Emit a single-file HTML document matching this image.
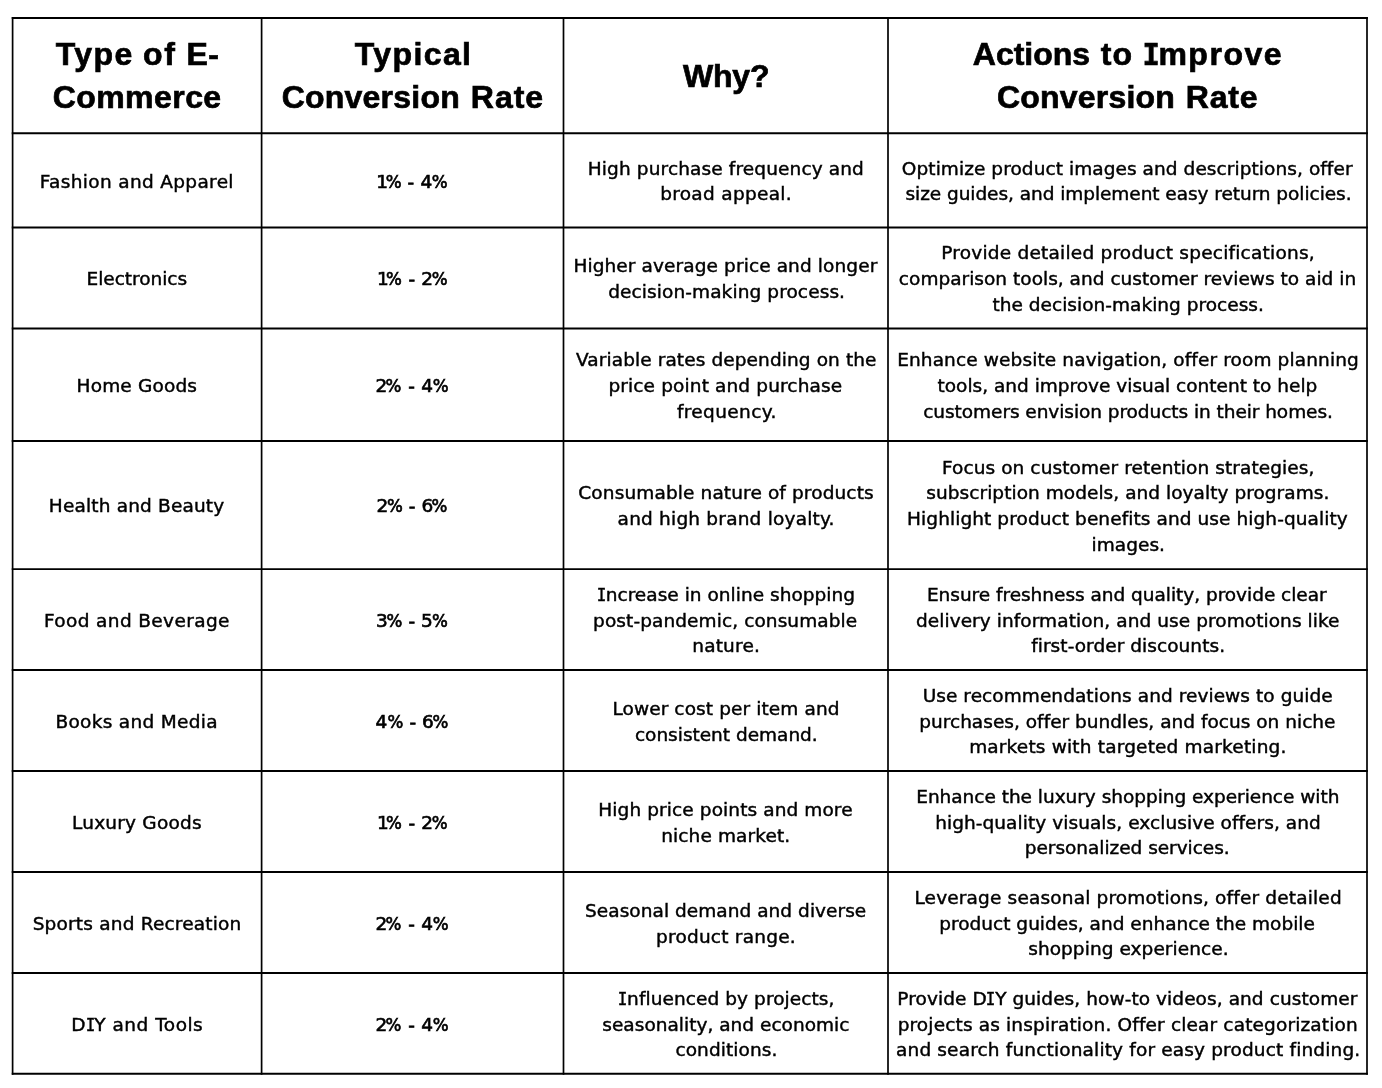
<!DOCTYPE html>
<html lang="en">
<head>
<meta charset="utf-8">
<title>E-Commerce Conversion Rates by Type</title>
<style>
html,body{margin:0;padding:0;background:#fff;}
body{width:1382px;height:1088px;position:relative;overflow:hidden;color:#000;}
#grid{position:absolute;left:0;top:0;width:1382px;height:1088px;}
.t{position:absolute;white-space:nowrap;text-align:center;margin:0;padding:0;}
.h{font:700 32px/43.3px 'Liberation Sans','DejaVu Sans',sans-serif;height:43.3px;-webkit-text-stroke:0.7px #000;}
.b{font:400 18.5px/25.7px 'DejaVu Sans','Liberation Sans',sans-serif;height:25.7px;-webkit-text-stroke:0.45px #000;}
.u{display:inline-block;}
.n{-webkit-text-stroke:0.65px #000;}
#tbl{position:absolute;left:0;top:0;width:1382px;height:1088px;}
.c{position:absolute;margin:0;padding:0;}
.h .i{font-family:'DejaVu Sans Mono','Liberation Mono',monospace;font-size:30.2px;letter-spacing:0;display:inline-block;margin:0 -1.5px;transform:scaleX(.95);}
.b .i{font-family:'DejaVu Sans Mono','Liberation Mono',monospace;letter-spacing:0;display:inline-block;margin:0 -1.4px;transform:scaleX(.86);}
.b .p{font-family:'DejaVu Sans Condensed','DejaVu Sans',sans-serif;}
</style>
</head>
<body>
<svg id="grid" width="1382" height="1088" viewBox="0 0 1382 1088" shape-rendering="geometricPrecision">
<rect x="0" y="0" width="1382" height="1088" fill="#ffffff"/>
<g stroke="#000" stroke-width="1.9" fill="none">
<line x1="11.75" y1="18.0" x2="1367.85" y2="18.0"/>
<line x1="11.75" y1="133.2" x2="1367.85" y2="133.2"/>
<line x1="11.75" y1="227.5" x2="1367.85" y2="227.5"/>
<line x1="11.75" y1="328.5" x2="1367.85" y2="328.5"/>
<line x1="11.75" y1="441.07" x2="1367.85" y2="441.07"/>
<line x1="11.75" y1="569.1" x2="1367.85" y2="569.1"/>
<line x1="11.75" y1="670.0" x2="1367.85" y2="670.0"/>
<line x1="11.75" y1="771.0" x2="1367.85" y2="771.0"/>
<line x1="11.75" y1="872.0" x2="1367.85" y2="872.0"/>
<line x1="11.75" y1="973.0" x2="1367.85" y2="973.0"/>
<line x1="11.75" y1="1073.8" x2="1367.85" y2="1073.8"/>
</g>
<g stroke="#000" stroke-width="1.7" fill="none">
<line x1="12.6" y1="17.05" x2="12.6" y2="1074.75"/>
<line x1="261.6" y1="17.05" x2="261.6" y2="1074.75"/>
<line x1="563.5" y1="17.05" x2="563.5" y2="1074.75"/>
<line x1="888.0" y1="17.05" x2="888.0" y2="1074.75"/>
<line x1="1367.0" y1="17.05" x2="1367.0" y2="1074.75"/>
</g>
</svg>
<div id="tbl" role="table" aria-label="E-commerce conversion rates by type">
<div class="r" role="row">
<div class="c" role="columnheader" style="left:13px;top:18px;width:249px;height:115px;">
<div class="t h" id="h0_0" style="left:-0.19px;top:15px;width:249.00px;"><span class="u" style="letter-spacing:1.375px;margin-right:-1.375px;">Type</span> <span class="u" style="letter-spacing:1.764px;margin-right:-1.764px;margin-left:1.816px;">of</span> <span class="u" style="letter-spacing:0.490px;margin-right:-0.490px;margin-left:2.633px;">E-</span></div>
<div class="t h" id="h0_1" style="left:-0.59px;top:58px;width:249.00px;"><span class="u" style="letter-spacing:0.443px;margin-right:-0.443px;">Commerce</span></div>
</div>
<div class="c" role="columnheader" style="left:262px;top:18px;width:302px;height:115px;">
<div class="t h" id="h1_0" style="left:-0.11px;top:15px;width:301.90px;"><span class="u" style="letter-spacing:1.412px;margin-right:-1.412px;">Typical</span></div>
<div class="t h" id="h1_1" style="left:-0.52px;top:58px;width:301.90px;"><span class="u" style="letter-spacing:0.212px;margin-right:-0.212px;">Conversion</span> <span class="u" style="letter-spacing:0.950px;margin-right:-0.950px;margin-left:2.256px;">Rate</span></div>
</div>
<div class="c" role="columnheader" style="left:564px;top:18px;width:324px;height:115px;">
<div class="t h" id="h2_0" style="left:-0.00px;top:37px;width:324.50px;"><span class="u" style="letter-spacing:-0.150px;margin-right:0.150px;">Why?</span></div>
</div>
<div class="c" role="columnheader" style="left:888px;top:18px;width:479px;height:115px;">
<div class="t h" id="h3_0" style="left:-0.26px;top:15px;width:479.00px;"><span class="u" style="letter-spacing:-0.033px;margin-right:0.033px;">Actions</span> <span class="u" style="letter-spacing:1.240px;margin-right:-1.240px;margin-left:1.773px;">to</span> <span class="u" style="letter-spacing:1.530px;margin-right:-1.530px;margin-left:2.230px;"><span class="i">I</span>mprove</span></div>
<div class="t h" id="h3_1" style="left:-0.19px;top:58px;width:479.00px;"><span class="u" style="letter-spacing:0.209px;margin-right:-0.209px;">Conversion</span> <span class="u" style="letter-spacing:0.824px;margin-right:-0.824px;margin-left:1.982px;">Rate</span></div>
</div>
</div>
<div class="r" role="row">
<div class="c" role="cell" style="left:13px;top:133px;width:249px;height:95px;">
<div class="t b" id="r0c0_0" style="left:-0.84px;top:36px;width:249.00px;"><span class="u" style="letter-spacing:0.339px;margin-right:-0.339px;">Fashion and Apparel</span></div>
</div>
<div class="c" role="cell" style="left:262px;top:133px;width:302px;height:95px;">
<div class="t b n" id="r0c1_0" style="left:-1.05px;top:36px;width:301.90px;"><span class="u" style="letter-spacing:-2.165px;margin-right:2.165px;">1<span class="p">%</span></span> <span class="u" style="margin-left:0.059px;">-</span> <span class="u" style="letter-spacing:-0.467px;margin-right:0.467px;margin-left:0.440px;">4<span class="p">%</span></span></div>
</div>
<div class="c" role="cell" style="left:564px;top:133px;width:324px;height:95px;">
<div class="t b" id="r0c2_0" style="left:-0.44px;top:23px;width:324.50px;"><span class="u" style="letter-spacing:0.130px;margin-right:-0.130px;">High purchase frequency and</span></div>
<div class="t b" id="r0c2_1" style="left:-0.32px;top:48px;width:324.50px;"><span class="u" style="letter-spacing:0.314px;margin-right:-0.314px;">broad appeal.</span></div>
</div>
<div class="c" role="cell" style="left:888px;top:133px;width:479px;height:95px;">
<div class="t b" id="r0c3_0" style="left:-0.31px;top:23px;width:479.00px;"><span class="u" style="letter-spacing:0.073px;margin-right:-0.073px;">Optimize product images and descriptions, offer</span></div>
<div class="t b" id="r0c3_1" style="left:1.01px;top:48px;width:479.00px;"><span class="u" style="letter-spacing:-0.051px;margin-right:0.051px;">size guides, and implement easy return policies.</span></div>
</div>
</div>
<div class="r" role="row">
<div class="c" role="cell" style="left:13px;top:228px;width:249px;height:100px;">
<div class="t b" id="r1c0_0" style="left:-0.69px;top:38px;width:249.00px;"><span class="u" style="letter-spacing:-0.011px;margin-right:0.011px;">Electronics</span></div>
</div>
<div class="c" role="cell" style="left:262px;top:228px;width:302px;height:100px;">
<div class="t b n" id="r1c1_0" style="left:-0.63px;top:38px;width:301.90px;"><span class="u" style="letter-spacing:-2.914px;margin-right:2.914px;">1<span class="p">%</span></span> <span class="u" style="margin-left:0.790px;">-</span> <span class="u" style="letter-spacing:-1.247px;margin-right:1.247px;margin-left:0.302px;">2<span class="p">%</span></span></div>
</div>
<div class="c" role="cell" style="left:564px;top:228px;width:324px;height:100px;">
<div class="t b" id="r1c2_0" style="left:-0.91px;top:25px;width:324.50px;"><span class="u" style="letter-spacing:0.113px;margin-right:-0.113px;">Higher average price and longer</span></div>
<div class="t b" id="r1c2_1" style="left:0.33px;top:51px;width:324.50px;"><span class="u" style="letter-spacing:0.104px;margin-right:-0.104px;">decision-making process.</span></div>
</div>
<div class="c" role="cell" style="left:888px;top:228px;width:479px;height:100px;">
<div class="t b" id="r1c3_0" style="left:0.44px;top:12px;width:479.00px;"><span class="u" style="letter-spacing:0.224px;margin-right:-0.224px;">Provide detailed product specifications,</span></div>
<div class="t b" id="r1c3_1" style="left:-0.01px;top:38px;width:479.00px;"><span class="u" style="letter-spacing:0.024px;margin-right:-0.024px;">comparison tools, and customer reviews to aid in</span></div>
<div class="t b" id="r1c3_2" style="left:0.71px;top:64px;width:479.00px;"><span class="u" style="letter-spacing:0.028px;margin-right:-0.028px;">the decision-making process.</span></div>
</div>
</div>
<div class="r" role="row">
<div class="c" role="cell" style="left:13px;top:328px;width:249px;height:113px;">
<div class="t b" id="r2c0_0" style="left:-0.73px;top:45px;width:249.00px;"><span class="u" style="letter-spacing:0.172px;margin-right:-0.172px;">Home Goods</span></div>
</div>
<div class="c" role="cell" style="left:262px;top:328px;width:302px;height:113px;">
<div class="t b n" id="r2c1_0" style="left:-0.88px;top:45px;width:301.90px;"><span class="u" style="letter-spacing:-1.718px;margin-right:1.718px;">2<span class="p">%</span></span> <span class="u" style="margin-left:1.004px;">-</span> <span class="u" style="letter-spacing:-0.204px;margin-right:0.204px;margin-left:0.349px;">4<span class="p">%</span></span></div>
</div>
<div class="c" role="cell" style="left:564px;top:328px;width:324px;height:113px;">
<div class="t b" id="r2c2_0" style="left:0.03px;top:19px;width:324.50px;"><span class="u" style="letter-spacing:0.104px;margin-right:-0.104px;">Variable rates depending on the</span></div>
<div class="t b" id="r2c2_1" style="left:-0.96px;top:45px;width:324.50px;"><span class="u" style="letter-spacing:0.137px;margin-right:-0.137px;">price point and purchase</span></div>
<div class="t b" id="r2c2_2" style="left:0.35px;top:71px;width:324.50px;"><span class="u" style="letter-spacing:0.377px;margin-right:-0.377px;">frequency.</span></div>
</div>
<div class="c" role="cell" style="left:888px;top:328px;width:479px;height:113px;">
<div class="t b" id="r2c3_0" style="left:0.47px;top:19px;width:479.00px;"><span class="u" style="letter-spacing:0.126px;margin-right:-0.126px;">Enhance website navigation, offer room planning</span></div>
<div class="t b" id="r2c3_1" style="left:-0.09px;top:45px;width:479.00px;"><span class="u" style="letter-spacing:0.001px;margin-right:-0.001px;">tools, and improve visual content to help</span></div>
<div class="t b" id="r2c3_2" style="left:0.58px;top:71px;width:479.00px;"><span class="u" style="letter-spacing:-0.054px;margin-right:0.054px;">customers envision products in their homes.</span></div>
</div>
</div>
<div class="r" role="row">
<div class="c" role="cell" style="left:13px;top:441px;width:249px;height:128px;">
<div class="t b" id="r3c0_0" style="left:-0.99px;top:52px;width:249.00px;"><span class="u" style="letter-spacing:0.173px;margin-right:-0.173px;">Health and Beauty</span></div>
</div>
<div class="c" role="cell" style="left:262px;top:441px;width:302px;height:128px;">
<div class="t b n" id="r3c1_0" style="left:-1.11px;top:52px;width:301.90px;"><span class="u" style="letter-spacing:-1.310px;margin-right:1.310px;">2<span class="p">%</span></span> <span class="u" style="margin-left:0.214px;">-</span> <span class="u" style="letter-spacing:-1.816px;margin-right:1.816px;margin-left:0.117px;">6<span class="p">%</span></span></div>
</div>
<div class="c" role="cell" style="left:564px;top:441px;width:324px;height:128px;">
<div class="t b" id="r3c2_0" style="left:-0.26px;top:39px;width:324.50px;"><span class="u" style="letter-spacing:0.126px;margin-right:-0.126px;">Consumable nature of products</span></div>
<div class="t b" id="r3c2_1" style="left:-0.23px;top:65px;width:324.50px;"><span class="u" style="letter-spacing:0.207px;margin-right:-0.207px;">and high brand loyalty.</span></div>
</div>
<div class="c" role="cell" style="left:888px;top:441px;width:479px;height:128px;">
<div class="t b" id="r3c3_0" style="left:0.68px;top:14px;width:479.00px;"><span class="u" style="letter-spacing:0.085px;margin-right:-0.085px;">Focus on customer retention strategies,</span></div>
<div class="t b" id="r3c3_1" style="left:0.33px;top:39px;width:479.00px;"><span class="u" style="letter-spacing:0.051px;margin-right:-0.051px;">subscription models, and loyalty programs.</span></div>
<div class="t b" id="r3c3_2" style="left:-0.08px;top:65px;width:479.00px;"><span class="u" style="letter-spacing:0.085px;margin-right:-0.085px;">Highlight product benefits and use high-quality</span></div>
<div class="t b" id="r3c3_3" style="left:0.72px;top:91px;width:479.00px;"><span class="u" style="letter-spacing:0.064px;margin-right:-0.064px;">images.</span></div>
</div>
</div>
<div class="r" role="row">
<div class="c" role="cell" style="left:13px;top:569px;width:249px;height:101px;">
<div class="t b" id="r4c0_0" style="left:-0.84px;top:39px;width:249.00px;"><span class="u" style="letter-spacing:0.380px;margin-right:-0.380px;">Food and Beverage</span></div>
</div>
<div class="c" role="cell" style="left:262px;top:569px;width:302px;height:101px;">
<div class="t b n" id="r4c1_0" style="left:-1.09px;top:39px;width:301.90px;"><span class="u" style="letter-spacing:-1.149px;margin-right:1.149px;">3<span class="p">%</span></span> <span class="u" style="margin-left:0.232px;">-</span> <span class="u" style="letter-spacing:-0.749px;margin-right:0.749px;margin-left:-0.036px;">5<span class="p">%</span></span></div>
</div>
<div class="c" role="cell" style="left:564px;top:569px;width:324px;height:101px;">
<div class="t b" id="r4c2_0" style="left:-0.09px;top:13px;width:324.50px;"><span class="u" style="letter-spacing:0.031px;margin-right:-0.031px;"><span class="i">I</span>ncrease in online shopping</span></div>
<div class="t b" id="r4c2_1" style="left:-1.11px;top:39px;width:324.50px;"><span class="u" style="letter-spacing:0.094px;margin-right:-0.094px;">post-pandemic, consumable</span></div>
<div class="t b" id="r4c2_2" style="left:-0.22px;top:64px;width:324.50px;"><span class="u" style="letter-spacing:0.184px;margin-right:-0.184px;">nature.</span></div>
</div>
<div class="c" role="cell" style="left:888px;top:569px;width:479px;height:101px;">
<div class="t b" id="r4c3_0" style="left:-0.72px;top:13px;width:479.00px;"><span class="u" style="letter-spacing:-0.022px;margin-right:0.022px;">Ensure freshness and quality, provide clear</span></div>
<div class="t b" id="r4c3_1" style="left:0.22px;top:39px;width:479.00px;"><span class="u" style="letter-spacing:0.074px;margin-right:-0.074px;">delivery information, and use promotions like</span></div>
<div class="t b" id="r4c3_2" style="left:0.63px;top:64px;width:479.00px;"><span class="u" style="letter-spacing:0.058px;margin-right:-0.058px;">first-order discounts.</span></div>
</div>
</div>
<div class="r" role="row">
<div class="c" role="cell" style="left:13px;top:670px;width:249px;height:101px;">
<div class="t b" id="r5c0_0" style="left:-1.00px;top:39px;width:249.00px;"><span class="u" style="letter-spacing:0.313px;margin-right:-0.313px;">Books and Media</span></div>
</div>
<div class="c" role="cell" style="left:262px;top:670px;width:302px;height:101px;">
<div class="t b n" id="r5c1_0" style="left:-0.94px;top:39px;width:301.90px;"><span class="u" style="letter-spacing:0.239px;margin-right:-0.239px;">4<span class="p">%</span></span> <span class="u" style="margin-left:0.185px;">-</span> <span class="u" style="letter-spacing:-1.200px;margin-right:1.200px;margin-left:-0.075px;">6<span class="p">%</span></span></div>
</div>
<div class="c" role="cell" style="left:564px;top:670px;width:324px;height:101px;">
<div class="t b" id="r5c2_0" style="left:-0.30px;top:26px;width:324.50px;"><span class="u" style="letter-spacing:0.111px;margin-right:-0.111px;">Lower cost per item and</span></div>
<div class="t b" id="r5c2_1" style="left:0.09px;top:52px;width:324.50px;"><span class="u" style="letter-spacing:-0.011px;margin-right:0.011px;">consistent demand.</span></div>
</div>
<div class="c" role="cell" style="left:888px;top:670px;width:479px;height:101px;">
<div class="t b" id="r5c3_0" style="left:0.17px;top:13px;width:479.00px;"><span class="u" style="letter-spacing:0.070px;margin-right:-0.070px;">Use recommendations and reviews to guide</span></div>
<div class="t b" id="r5c3_1" style="left:-0.15px;top:39px;width:479.00px;"><span class="u" style="letter-spacing:0.021px;margin-right:-0.021px;">purchases, offer bundles, and focus on niche</span></div>
<div class="t b" id="r5c3_2" style="left:0.25px;top:64px;width:479.00px;"><span class="u" style="letter-spacing:0.178px;margin-right:-0.178px;">markets with targeted marketing.</span></div>
</div>
</div>
<div class="r" role="row">
<div class="c" role="cell" style="left:13px;top:771px;width:249px;height:101px;">
<div class="t b" id="r6c0_0" style="left:-0.68px;top:39px;width:249.00px;"><span class="u" style="letter-spacing:0.208px;margin-right:-0.208px;">Luxury Goods</span></div>
</div>
<div class="c" role="cell" style="left:262px;top:771px;width:302px;height:101px;">
<div class="t b n" id="r6c1_0" style="left:-0.63px;top:39px;width:301.90px;"><span class="u" style="letter-spacing:-2.914px;margin-right:2.914px;">1<span class="p">%</span></span> <span class="u" style="margin-left:0.790px;">-</span> <span class="u" style="letter-spacing:-1.247px;margin-right:1.247px;margin-left:0.302px;">2<span class="p">%</span></span></div>
</div>
<div class="c" role="cell" style="left:564px;top:771px;width:324px;height:101px;">
<div class="t b" id="r6c2_0" style="left:-0.80px;top:26px;width:324.50px;"><span class="u" style="letter-spacing:0.104px;margin-right:-0.104px;">High price points and more</span></div>
<div class="t b" id="r6c2_1" style="left:-0.52px;top:52px;width:324.50px;"><span class="u" style="letter-spacing:0.117px;margin-right:-0.117px;">niche market.</span></div>
</div>
<div class="c" role="cell" style="left:888px;top:771px;width:479px;height:101px;">
<div class="t b" id="r6c3_0" style="left:0.34px;top:13px;width:479.00px;"><span class="u" style="letter-spacing:-0.024px;margin-right:0.024px;">Enhance the luxury shopping experience with</span></div>
<div class="t b" id="r6c3_1" style="left:0.48px;top:39px;width:479.00px;"><span class="u" style="letter-spacing:0.069px;margin-right:-0.069px;">high-quality visuals, exclusive offers, and</span></div>
<div class="t b" id="r6c3_2" style="left:-0.26px;top:64px;width:479.00px;"><span class="u" style="letter-spacing:-0.030px;margin-right:0.030px;">personalized services.</span></div>
</div>
</div>
<div class="r" role="row">
<div class="c" role="cell" style="left:13px;top:872px;width:249px;height:101px;">
<div class="t b" id="r7c0_0" style="left:-0.50px;top:39px;width:249.00px;"><span class="u" style="letter-spacing:0.194px;margin-right:-0.194px;">Sports and Recreation</span></div>
</div>
<div class="c" role="cell" style="left:262px;top:872px;width:302px;height:101px;">
<div class="t b n" id="r7c1_0" style="left:-0.88px;top:39px;width:301.90px;"><span class="u" style="letter-spacing:-1.718px;margin-right:1.718px;">2<span class="p">%</span></span> <span class="u" style="margin-left:1.004px;">-</span> <span class="u" style="letter-spacing:-0.204px;margin-right:0.204px;margin-left:0.349px;">4<span class="p">%</span></span></div>
</div>
<div class="c" role="cell" style="left:564px;top:872px;width:324px;height:101px;">
<div class="t b" id="r7c2_0" style="left:-0.62px;top:26px;width:324.50px;"><span class="u" style="letter-spacing:0.052px;margin-right:-0.052px;">Seasonal demand and diverse</span></div>
<div class="t b" id="r7c2_1" style="left:-0.41px;top:52px;width:324.50px;"><span class="u" style="letter-spacing:0.232px;margin-right:-0.232px;">product range.</span></div>
</div>
<div class="c" role="cell" style="left:888px;top:872px;width:479px;height:101px;">
<div class="t b" id="r7c3_0" style="left:0.54px;top:13px;width:479.00px;"><span class="u" style="letter-spacing:0.172px;margin-right:-0.172px;">Leverage seasonal promotions, offer detailed</span></div>
<div class="t b" id="r7c3_1" style="left:-0.46px;top:39px;width:479.00px;"><span class="u" style="letter-spacing:0.011px;margin-right:-0.011px;">product guides, and enhance the mobile</span></div>
<div class="t b" id="r7c3_2" style="left:0.87px;top:64px;width:479.00px;"><span class="u" style="letter-spacing:0.067px;margin-right:-0.067px;">shopping experience.</span></div>
</div>
</div>
<div class="r" role="row">
<div class="c" role="cell" style="left:13px;top:973px;width:249px;height:101px;">
<div class="t b" id="r8c0_0" style="left:-0.54px;top:39px;width:249.00px;"><span class="u" style="letter-spacing:0.497px;margin-right:-0.497px;">D<span class="i">I</span>Y and Tools</span></div>
</div>
<div class="c" role="cell" style="left:262px;top:973px;width:302px;height:101px;">
<div class="t b n" id="r8c1_0" style="left:-0.88px;top:39px;width:301.90px;"><span class="u" style="letter-spacing:-1.718px;margin-right:1.718px;">2<span class="p">%</span></span> <span class="u" style="margin-left:1.004px;">-</span> <span class="u" style="letter-spacing:-0.204px;margin-right:0.204px;margin-left:0.349px;">4<span class="p">%</span></span></div>
</div>
<div class="c" role="cell" style="left:564px;top:973px;width:324px;height:101px;">
<div class="t b" id="r8c2_0" style="left:0.33px;top:13px;width:324.50px;"><span class="u" style="letter-spacing:0.076px;margin-right:-0.076px;"><span class="i">I</span>nfluenced by projects,</span></div>
<div class="t b" id="r8c2_1" style="left:-0.39px;top:39px;width:324.50px;"><span class="u" style="letter-spacing:0.025px;margin-right:-0.025px;">seasonality, and economic</span></div>
<div class="t b" id="r8c2_2" style="left:0.16px;top:64px;width:324.50px;"><span class="u" style="letter-spacing:0.085px;margin-right:-0.085px;">conditions.</span></div>
</div>
<div class="c" role="cell" style="left:888px;top:973px;width:479px;height:101px;">
<div class="t b" id="r8c3_0" style="left:-0.16px;top:13px;width:479.00px;"><span class="u" style="letter-spacing:0.079px;margin-right:-0.079px;">Provide D<span class="i">I</span>Y guides, how-to videos, and customer</span></div>
<div class="t b" id="r8c3_1" style="left:0.21px;top:39px;width:479.00px;"><span class="u" style="letter-spacing:0.152px;margin-right:-0.152px;">projects as inspiration. Offer clear categorization</span></div>
<div class="t b" id="r8c3_2" style="left:0.63px;top:64px;width:479.00px;"><span class="u" style="letter-spacing:0.159px;margin-right:-0.159px;">and search functionality for easy product finding.</span></div>
</div>
</div>
</div>
</body>
</html>
